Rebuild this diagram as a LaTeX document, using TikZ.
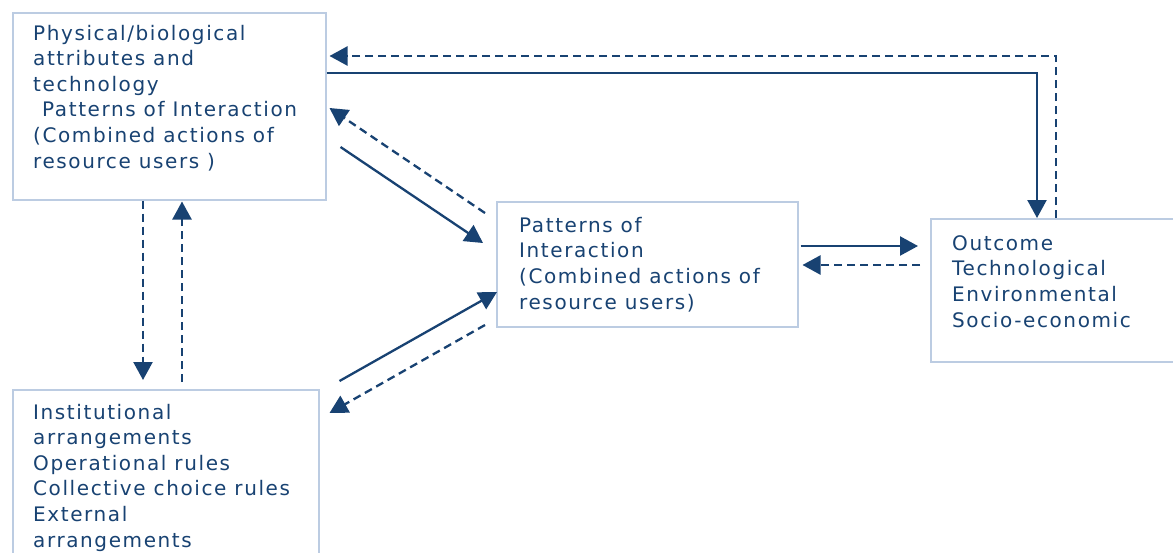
\documentclass[tikz,border=0pt]{standalone}
\usepackage{fontspec}
\setmainfont{DejaVu Sans}[LetterSpace=8]
\usetikzlibrary{arrows.meta}
\definecolor{ink}{RGB}{24,66,114}
\definecolor{boxline}{RGB}{188,204,226}
\tikzset{
  box/.style={draw=boxline, line width=1.5pt, inner sep=0pt, anchor=north west},
  txt/.style={anchor=base west, align=left, inner sep=0pt, text=ink, font=\fontsize{20}{25.6}\selectfont},
  solidarrow/.style={draw=ink, line width=2.3pt, -{Triangle[length=18pt,width=19pt]}},
  dasharrow/.style={draw=ink, line width=2.3pt, dash pattern=on 8pt off 5pt, -{Triangle[length=18pt,width=19pt]}}
}
\begin{document}
\begin{tikzpicture}[x=1pt,y=-1pt]
\clip (0,0) rectangle (1173,552);
\useasboundingbox (0,0) rectangle (1173,552);
\fill[white] (0,0) rectangle (1173,552);
% boxes
\node[box, minimum width=313pt, minimum height=187pt] (A) at (12,12) {};
\node[box, minimum width=306pt, minimum height=190pt] (B) at (12,389) {};
\node[box, minimum width=301pt, minimum height=125pt] (C) at (496,201) {};
\node[box, minimum width=260pt, minimum height=143pt] (D) at (930,218) {};
% texts (anchored at the baseline of their last line)
\node[txt] (tA) at (33,168) {Physical/biological\\attributes and\\technology\\\hspace{9pt}Patterns of Interaction\\(Combined actions of\\resource users )};
\node[txt] (tB) at (33,547) {Institutional\\arrangements\\Operational rules\\Collective choice rules\\External\\arrangements};
\node[txt] (tC) at (519,309) {Patterns of\\Interaction\\(Combined actions of\\resource users)};
\node[txt] (tD) at (952,327) {Outcome\\Technological\\Environmental\\Socio-economic};
% connectors
\draw[solidarrow] ([yshift=-61pt]A.north east) -| ([xshift=107pt]D.north west);
\draw[dasharrow] ([xshift=126pt]D.north west) |- ([xshift=3pt,yshift=-44pt]A.north east);
\draw[solidarrow] ([xshift=14pt,yshift=-135pt]A.north east) -- ([xshift=-13pt,yshift=-42pt]C.north west);
\draw[dasharrow] ([xshift=-11pt,yshift=-12pt]C.north west) -- ([xshift=3pt,yshift=-96pt]A.north east);
\draw[solidarrow] ([xshift=20pt,yshift=8pt]B.north east) -- ([xshift=1pt,yshift=-91pt]C.north west);
\draw[dasharrow] ([xshift=-11pt,yshift=-124pt]C.north west) -- ([xshift=10pt,yshift=-24pt]B.north east);
\draw[dasharrow] ([xshift=131pt]A.south west) -- ([xshift=131pt,yshift=9pt]B.north west);
\draw[dasharrow] ([xshift=170pt,yshift=7pt]B.north west) -- ([xshift=170pt,yshift=-1pt]A.south west);
\draw[solidarrow] ([xshift=2pt,yshift=-45pt]C.north east) -- ([xshift=-12pt,yshift=-28pt]D.north west);
\draw[dasharrow] ([xshift=-10pt,yshift=-47pt]D.north west) -- ([xshift=4pt,yshift=-64pt]C.north east);
\end{tikzpicture}
\end{document}
